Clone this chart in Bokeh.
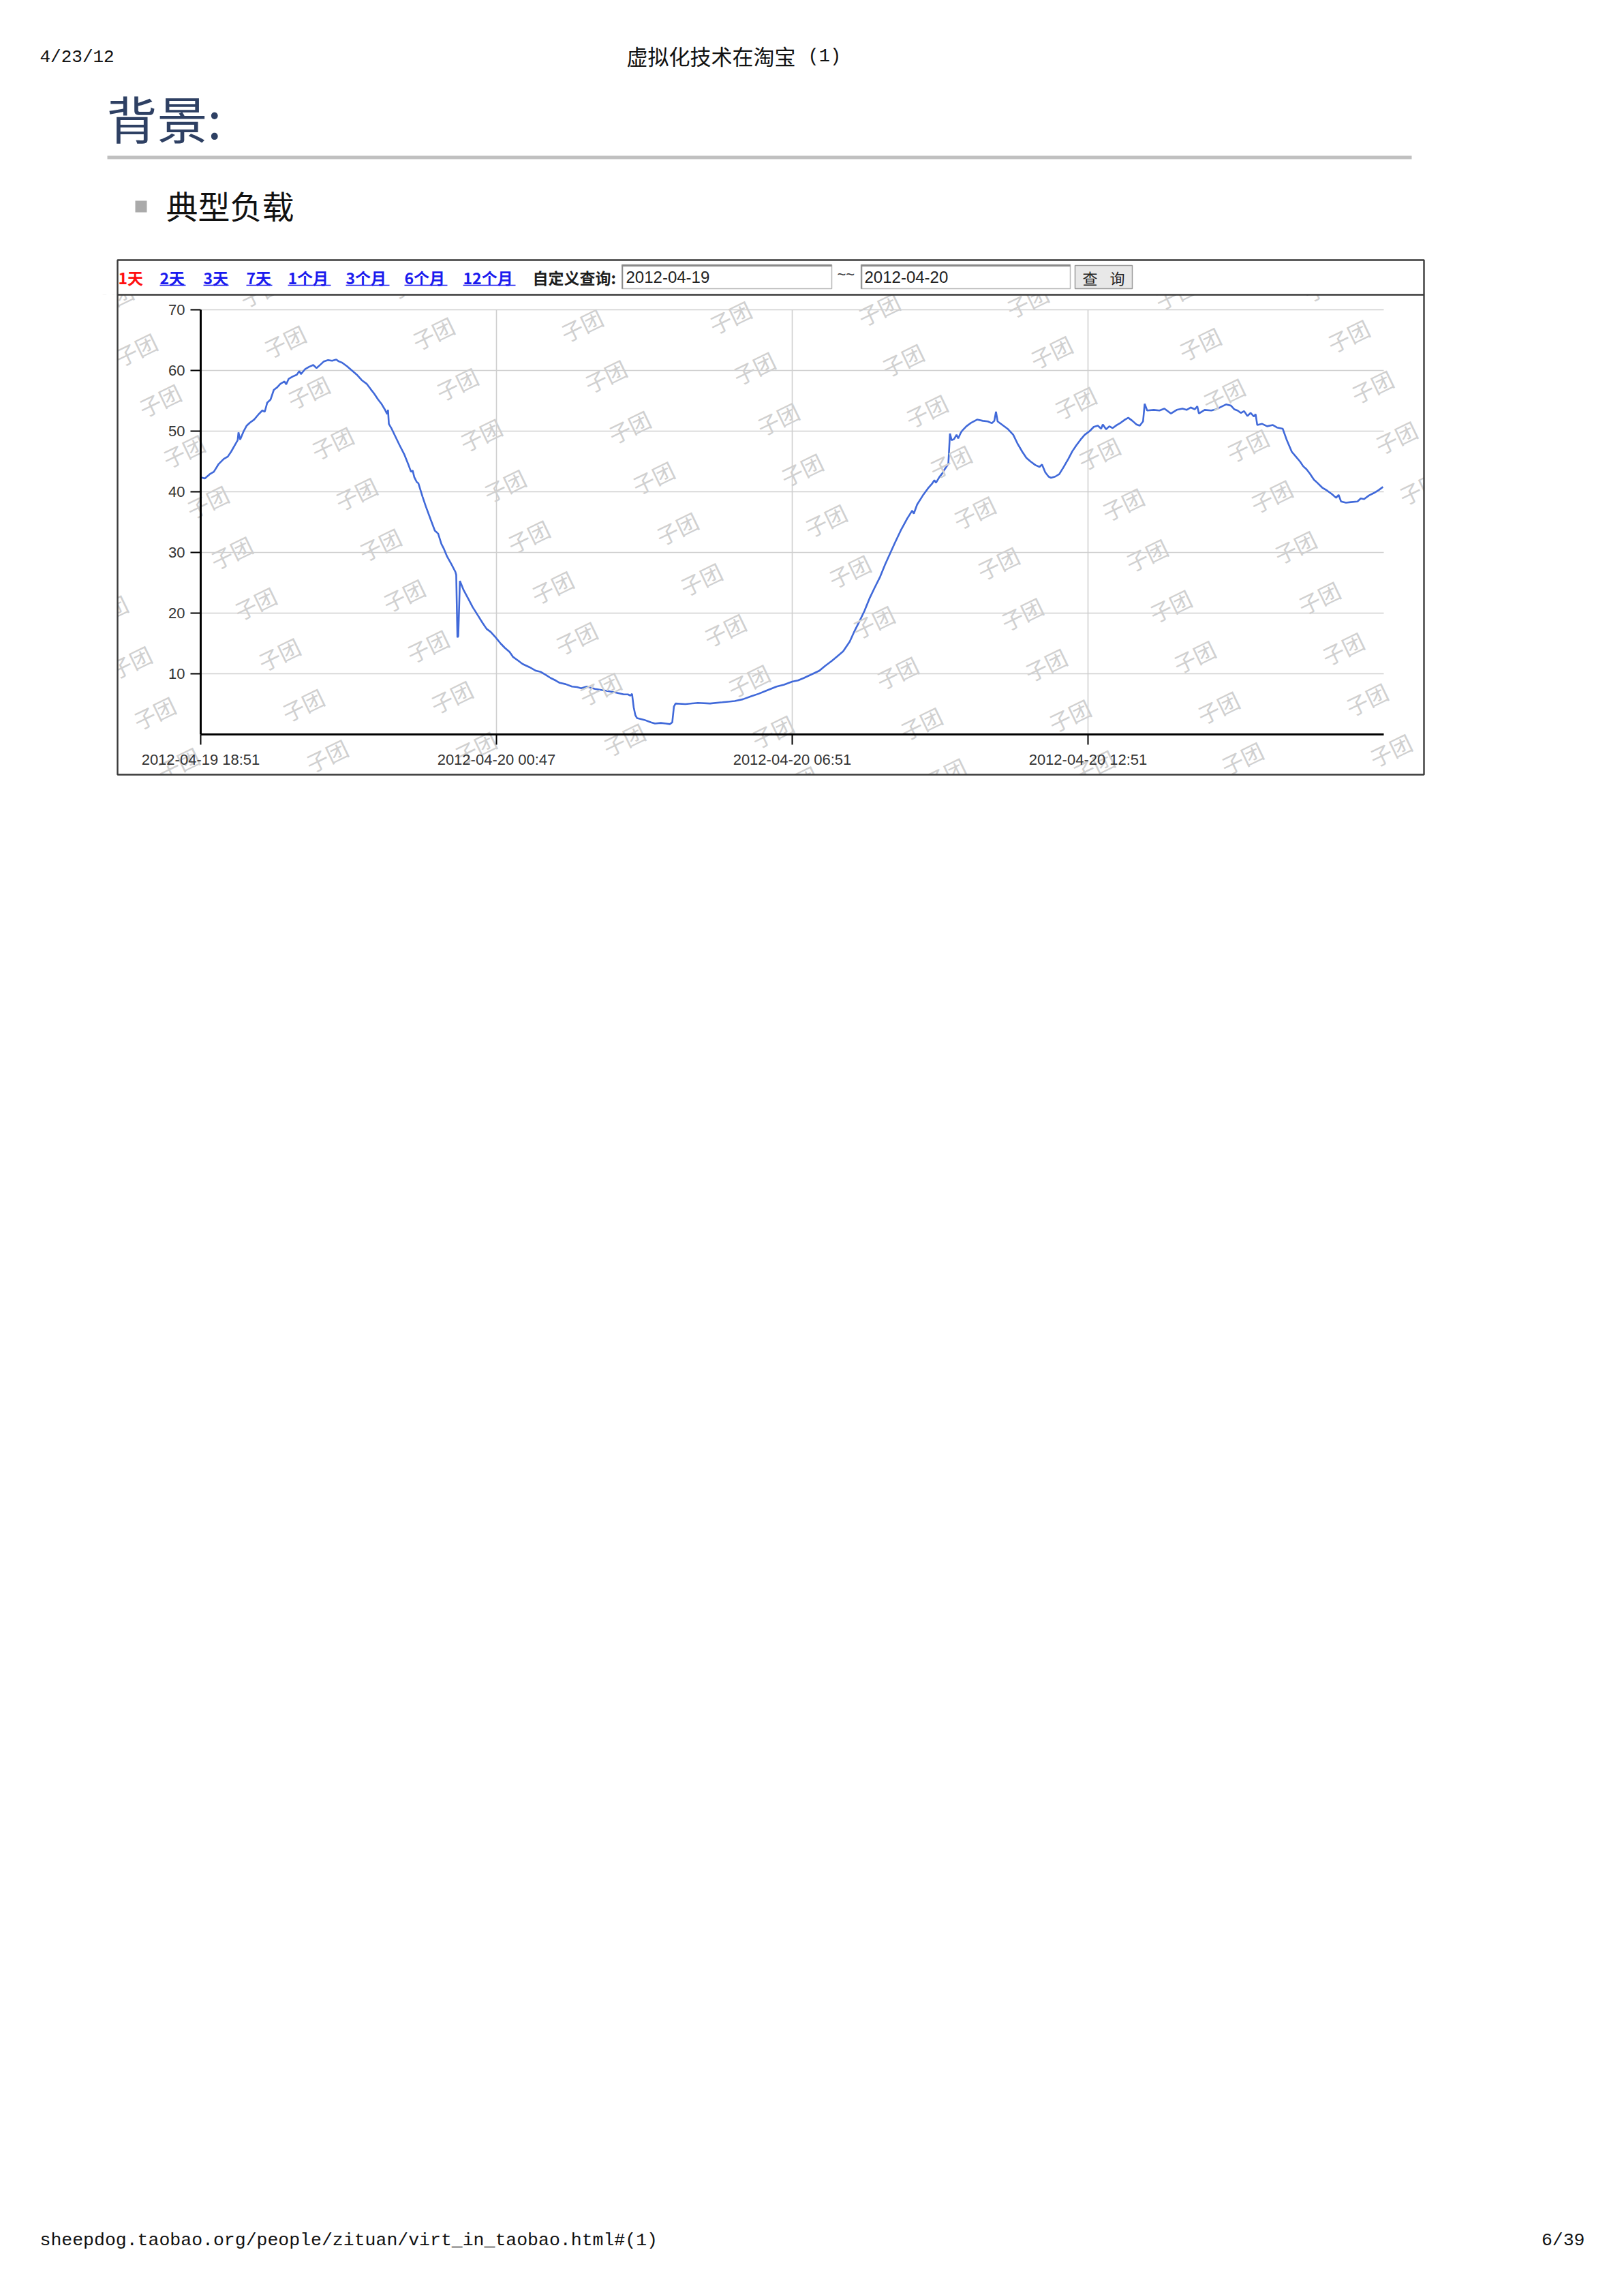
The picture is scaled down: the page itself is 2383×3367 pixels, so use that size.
from bokeh.plotting import figure
from bokeh.models import Range1d, FixedTicker
from bokeh.embed import file_html
from bokeh.resources import INLINE
from bokeh.core.properties import value

# ---------------- data ----------------
minutes = [0, 5, 11, 16, 22, 28, 33, 37, 42, 45, 46, 48, 52, 56, 60, 65, 70, 75, 78, 81, 85, 89, 93, 97,
           102, 104, 107, 112, 117, 120, 122, 127, 132, 137, 141, 146, 150, 155, 160, 165, 168, 172, 178,
           184, 190, 196, 202, 207, 211, 216, 220, 224, 227, 228, 229, 232, 237, 242, 248, 253, 256, 258,
           260, 263, 265, 270, 274, 280, 285, 289, 293, 296, 300, 305, 310, 311, 312.5, 313.5, 315.5, 320,
           326, 331, 337, 343, 348, 353, 359, 365, 370, 376, 380, 385, 392, 400, 408, 414, 419, 426, 432,
           437, 444, 452, 458, 463, 470, 480, 494, 505, 515, 520, 523, 525, 527, 529, 531, 540, 548, 553,
           560, 566, 571, 574, 576, 578, 590, 605, 620, 635, 642, 650, 660, 670, 679, 690, 701, 710, 720,
           727, 734, 742, 753, 760, 768, 775, 782, 790, 796, 802, 808, 814, 820, 827, 833, 839, 845, 852,
           860, 866, 868, 872, 879, 886, 890, 893, 895, 899, 903, 905, 910, 912, 914, 917, 920, 922, 925,
           927, 932, 938, 945, 952, 958, 963, 966, 968, 970, 975, 982, 989, 994, 1000, 1005, 1010, 1016,
           1021, 1024, 1028, 1032, 1035, 1040, 1045, 1050, 1056, 1061, 1066, 1071, 1076, 1082, 1087, 1092,
           1096, 1098, 1102, 1106, 1110, 1115, 1120, 1125, 1129, 1134, 1139, 1143, 1147, 1149, 1152, 1160,
           1167, 1173, 1181, 1188, 1195, 1200, 1205, 1210, 1213, 1215, 1222, 1230, 1236, 1242, 1248, 1254,
           1258, 1262, 1266, 1270, 1274, 1278, 1282, 1284, 1286, 1292, 1298, 1305, 1310, 1317, 1322, 1328,
           1333, 1338, 1342, 1346, 1350, 1355, 1359, 1365, 1371, 1377, 1382, 1385, 1388, 1394, 1400, 1408,
           1412, 1416, 1422, 1428, 1434, 1439]
load = [42.4, 42.2, 42.9, 43.3, 44.6, 45.4, 45.8, 46.6, 47.8, 48.5, 49.8, 48.6, 49.9, 50.9, 51.4, 51.9,
        52.7, 53.4, 53.2, 54.7, 55.2, 56.8, 57.2, 57.8, 58.2, 57.7, 58.6, 59.0, 59.3, 59.9, 59.4, 60.2,
        60.6, 60.9, 60.4, 61.0, 61.5, 61.7, 61.6, 61.8, 61.5, 61.3, 60.7, 60.0, 59.3, 58.4, 57.8, 56.9,
        56.2, 55.2, 54.5, 53.6, 52.8, 53.5, 51.2, 50.5, 49.1, 47.7, 46.1, 44.4, 43.3, 43.5, 42.4, 41.6,
        41.4, 39.2, 37.6, 35.4, 33.6, 33.1, 31.4, 30.6, 29.3, 28.1, 26.8, 26.3, 16.0, 16.2, 25.3, 23.8,
        22.3, 21.0, 19.7, 18.4, 17.4, 16.9, 16.0, 15.0, 14.3, 13.6, 12.8, 12.3, 11.6, 11.1, 10.5, 10.3,
        9.9, 9.3, 8.9, 8.5, 8.3, 7.9, 7.8, 7.6, 7.9, 7.5, 7.2, 6.9, 6.6, 6.6, 6.4, 6.7, 4.5, 3.2, 2.7,
        2.4, 2.0, 1.8, 1.9, 1.8, 1.7, 2.0, 4.6, 5.1, 5.0, 5.2, 5.1, 5.3, 5.4, 5.5, 5.8, 6.3, 6.7, 7.3,
        7.9, 8.2, 8.7, 8.9, 9.3, 9.8, 10.5, 11.3, 12.1, 12.9, 13.7, 15.3, 17.1, 18.7, 20.4, 22.4, 24.1,
        26.0, 28.0, 29.8, 31.6, 33.6, 35.6, 36.9, 36.4, 37.9, 39.4, 40.7, 41.3, 41.9, 41.5, 42.4, 43.1,
        43.6, 44.6, 49.6, 48.5, 48.7, 49.4, 48.8, 49.7, 50.1, 50.8, 51.4, 51.9, 51.7, 51.6, 51.3, 51.7,
        53.2, 51.6, 51.1, 50.4, 49.4, 48.0, 46.6, 45.6, 45.0, 44.4, 44.1, 44.5, 43.2, 42.5, 42.3, 42.5,
        42.9, 44.0, 45.4, 46.7, 47.7, 48.6, 49.4, 50.0, 50.7, 50.9, 50.4, 51.1, 50.3, 50.8, 50.5, 51.0,
        51.4, 51.9, 52.2, 51.7, 51.1, 50.9, 51.6, 54.5, 53.4, 53.5, 53.4, 53.7, 52.9, 53.5, 53.7, 53.5,
        53.9, 53.6, 54.1, 52.9, 53.5, 53.4, 53.6, 54.0, 54.4, 54.2, 53.6, 53.4, 53.0, 53.3, 52.5, 53.0,
        52.4, 52.8, 51.0, 51.2, 50.8, 51.0, 50.6, 50.4, 48.5, 46.6, 45.8, 45.0, 44.2, 43.7, 43.0, 42.0,
        41.5, 40.7, 40.2, 39.6, 39.0, 39.5, 38.4, 38.2, 38.3, 38.4, 38.9, 38.8, 39.4, 39.8, 40.3, 40.8]

x_ticks = [0, 360, 720, 1080]
x_tick_labels = ["2012-04-19 18:51", "2012-04-20 00:47", "2012-04-20 06:51", "2012-04-20 12:51"]
y_ticks = [10, 20, 30, 40, 50, 60, 70]
x_max = 1440
y_max = 70

links = ["1天", "2天", "3天", "7天", "1个月", "3个月", "6个月", "12个月"]
date_from = "2012-04-19"
date_to = "2012-04-20"

# ---------------- layout (page pixels) ----------------
ORG = 0
PAGE_W, PAGE_H = 2383, 3367
AX_X0, AX_X1 = 294, 2030     # page x of minute 0 and of x_max
AX_Y0, AX_YT = 1077, 454     # page y of value 0 and of y_max

xpp = x_max / (AX_X1 - AX_X0)
ypp = y_max / (AX_Y0 - AX_YT)
x_range = Range1d((ORG - AX_X0) * xpp, (ORG + PAGE_W - AX_X0) * xpp)
y_range = Range1d((AX_Y0 - (ORG + PAGE_H)) * ypp, (AX_Y0 - ORG) * ypp)

p = figure(width=PAGE_W, height=PAGE_H, x_range=x_range, y_range=y_range,
           output_backend="svg", toolbar_location=None, min_border=0,
           outline_line_color=None, background_fill_color="white",
           border_fill_color="white")
p.extra_x_ranges = {"px": Range1d(ORG, ORG + PAGE_W)}
p.extra_y_ranges = {"py": Range1d(ORG + PAGE_H, ORG)}
PX = dict(x_range_name="px", y_range_name="py")

p.grid.visible = False

# grid lines from tick arrays
p.segment(x0=0, x1=x_max, y0=y_ticks, y1=y_ticks, line_color="#cfcfcf", line_width=1.6)
p.segment(x0=x_ticks[1:], x1=x_ticks[1:], y0=0, y1=y_max, line_color="#cfcfcf", line_width=1.6)

# data line
p.line(minutes, load, line_color="#4069d9", line_width=2.6)

# watermark "子团" lattice (decoration)
BOX_L, BOX_R, BOX_T, BOX_B, DIV_Y = 172, 2089, 381, 1136, 432
wx, wy = [], []
for i in range(-12, 14):
    for j in range(-12, 14):
        cx = 705 + 218 * i + 35 * j
        cy = 637 - 11.8 * i + 74.5 * j
        if BOX_L - 30 < cx < BOX_R + 30 and DIV_Y - 30 < cy < BOX_B + 30:
            wx.append(cx)
            wy.append(cy)
p.text(x=wx, y=wy, text=["子团"] * len(wx), angle=0.45, text_align="center",
       text_baseline="middle", text_font=value("Noto Sans CJK SC"), text_font_size="32px",
       text_color="#d0d0d0", **PX)

# white covers outside the chart box
p.quad(left=[ORG, ORG, BOX_R, ORG], right=[ORG + PAGE_W, BOX_L, ORG + PAGE_W, ORG + PAGE_W],
       top=[ORG, DIV_Y, DIV_Y, BOX_B], bottom=[DIV_Y, BOX_B, BOX_B, ORG + PAGE_H],
       fill_color="white", line_color=None, **PX)

# box border and divider
p.quad(left=BOX_L, right=BOX_R, top=BOX_T, bottom=BOX_B, fill_color=None,
       line_color="#3a3a3a", line_width=2.4, **PX)
p.segment(x0=BOX_L, x1=BOX_R, y0=DIV_Y, y1=DIV_Y, line_color="#3a3a3a", line_width=2.4, **PX)

# toolbar links
TB_Y = 406
link_x0 = [173, 234, 298, 361, 422, 507, 593, 679]
link_x1 = [213, 272, 335, 399, 485, 571, 656, 756]
link_col = ["#ff1010"] + ["#1a1aee"] * 7
p.text(x=link_x0, y=[TB_Y] * 8, text=links, text_color=link_col, text_align="left",
       text_baseline="middle", text_font=value("Noto Sans CJK SC"), text_font_size="23px",
       text_font_style="bold", **PX)
p.segment(x0=link_x0[1:], x1=link_x1[1:], y0=[418] * 7, y1=[418] * 7,
          line_color="#1a1aee", line_width=1.6, **PX)
p.text(x=[781], y=[TB_Y], text=["自定义查询:"], text_color="#1e1e1e", text_align="left",
       text_baseline="middle", text_font=value("Noto Sans CJK SC"), text_font_size="23px",
       text_font_style="bold", **PX)

# input boxes
p.quad(left=[912, 1263], right=[1220, 1570], top=[388, 388], bottom=[423, 423],
       fill_color="white", line_color="#b8b8b8", line_width=1.5, **PX)
p.segment(x0=[912, 1263], x1=[1220, 1570], y0=[389, 389], y1=[389, 389],
          line_color="#8a8a8a", line_width=3, **PX)
p.segment(x0=[913, 1264], x1=[913, 1264], y0=[388, 388], y1=[423, 423],
          line_color="#8a8a8a", line_width=1.5, **PX)
p.text(x=[918, 1268], y=[TB_Y, TB_Y], text=[date_from, date_to], text_color="#222222",
       text_align="left", text_baseline="middle", text_font=value("Liberation Sans"),
       text_font_size="24px", **PX)
p.text(x=[1228], y=[402], text=["~~"], text_color="#333333", text_align="left",
       text_baseline="middle", text_font=value("Liberation Sans"), text_font_size="22px", **PX)

# button
p.quad(left=1577, right=1661, top=389, bottom=423, fill_color="#e8e8e8",
       line_color="#9a9a9a", line_width=1.5, **PX)
p.text(x=[1599, 1639], y=[TB_Y, TB_Y], text=["查", "询"], text_color="#222222",
       text_align="center", text_baseline="middle", text_font=value("Noto Sans CJK SC"),
       text_font_size="22px", **PX)

# page header
p.text(x=[58], y=[83], text=["4/23/12"], text_color="#111111", text_align="left",
       text_baseline="middle", text_font=value("Liberation Mono"), text_font_size="26px", **PX)
p.text(x=[919], y=[81], text=["虚拟化技术在淘宝"], text_color="#111111", text_align="left",
       text_baseline="middle", text_font=value("Noto Sans CJK SC"), text_font_size="31px", **PX)
p.text(x=[1185], y=[82], text=["(1)"], text_color="#111111", text_align="left",
       text_baseline="middle", text_font=value("Liberation Mono"), text_font_size="27px", **PX)
p.text(x=[156], y=[171], text=["背景:"], text_color="#2e4063", text_align="left",
       text_baseline="middle", text_font=value("Noto Sans CJK SC"), text_font_size="74px", **PX)
p.quad(left=157, right=2071, top=228, bottom=233, fill_color="#c0c0c0", line_color=None, **PX)
p.quad(left=198, right=215, top=294, bottom=311, fill_color="#aaaaaa", line_color=None, **PX)
p.text(x=[243], y=[300], text=["典型负载"], text_color="#111111", text_align="left",
       text_baseline="middle", text_font=value("Noto Sans CJK SC"), text_font_size="47px", **PX)

# page footer
p.text(x=[58], y=[3286], text=["sheepdog.taobao.org/people/zituan/virt_in_taobao.html#(1)"],
       text_color="#111111", text_align="left", text_baseline="middle",
       text_font=value("Liberation Mono"), text_font_size="26.5px", **PX)
p.text(x=[2325], y=[3286], text=["6/39"], text_color="#111111", text_align="right",
       text_baseline="middle", text_font=value("Liberation Mono"), text_font_size="26.5px", **PX)

# axes at fixed data locations
xa = p.xaxis[0]
ya = p.yaxis[0]
xa.fixed_location = 0
ya.fixed_location = 0
xa.bounds = (0, x_max)
ya.bounds = (0, y_max)
xa.ticker = FixedTicker(ticks=x_ticks)
ya.ticker = FixedTicker(ticks=y_ticks)
xa.major_label_overrides = {t: l for t, l in zip(x_ticks, x_tick_labels)}
for ax in (xa, ya):
    ax.axis_line_color = "black"
    ax.axis_line_width = 3
    ax.major_tick_line_color = "black"
    ax.major_tick_line_width = 2
    ax.major_tick_out = 15
    ax.major_tick_in = 0
    ax.minor_tick_line_color = None
    ax.major_label_text_font = "Liberation Sans"
    ax.major_label_text_font_size = "22px"
    ax.major_label_text_color = "#333333"
xa.major_label_standoff = 9
ya.major_label_standoff = 8

open("out.html", "w").write(file_html(p, INLINE))
